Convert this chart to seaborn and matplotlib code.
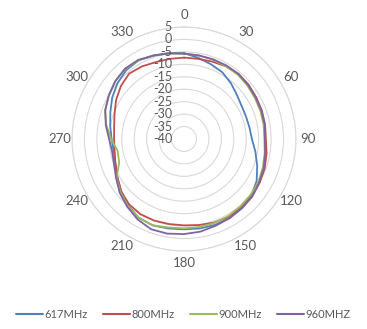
import numpy as np
import pandas as pd
import matplotlib
matplotlib.use("Agg")
import matplotlib.pyplot as plt
import seaborn as sns
from matplotlib.lines import Line2D

# ---- data (dB), angles every 10 degrees ----
angles_deg = list(range(0, 360, 10))
s617 = [-5.5, -6.9, -8.1, -9.1, -10.7, -12.3, -13.3, -13.5, -13.3, -12.7,
        -10.9, -8.7, -6.3, -4.7, -3.9, -3.3, -3.3, -3.5, -3.7, -3.5,
        -3.1, -3.5, -5.1, -7.1, -9.1, -10.7, -11.3, -10.9, -9.9, -8.5,
        -6.7, -5.1, -3.9, -3.5, -4.3, -4.9]
s800 = [-7.3, -7.3, -6.9, -6.3, -5.9, -6.1, -6.5, -6.7, -6.9, -7.1,
        -6.3, -5.5, -4.9, -4.3, -4.1, -3.9, -4.3, -4.9, -5.3, -5.3,
        -5.1, -5.1, -5.7, -7.1, -9.1, -10.7, -11.7, -11.9, -11.5, -10.3,
        -8.5, -6.9, -5.7, -6.3, -7.1, -7.3]
s900 = [-5.7, -5.9, -6.1, -6.3, -6.3, -6.7, -7.1, -7.3, -7.5, -7.7,
        -7.1, -6.3, -5.5, -5.1, -4.7, -4.3, -4.1, -4.1, -4.1, -3.9,
        -3.1, -3.5, -4.9, -6.7, -8.7, -12.3, -12.9, -10.7, -8.3, -6.3,
        -5.1, -3.9, -3.3, -3.5, -4.3, -5.1]
s960 = [-5.7, -5.9, -5.9, -5.9, -5.9, -6.3, -6.7, -6.9, -7.1, -7.5,
        -6.9, -5.9, -5.1, -4.1, -3.7, -3.3, -2.9, -2.2, -1.8, -1.4,
        -1.4, -2.7, -4.5, -6.3, -8.5, -10.1, -10.7, -9.9, -8.1, -6.3,
        -5.1, -3.9, -3.1, -3.3, -4.3, -5.1]
series_names = ["617MHz", "800MHz", "900MHz", "960MHZ"]
series_vals = [s617, s800, s900, s960]
colors = ["#4F81BD", "#C0504D", "#9BBB59", "#8064A2"]
angle_ticks = list(range(0, 360, 30))
radial_ticks = [5, 0, -5, -10, -15, -20, -25, -30, -35, -40]

rows = []
for name, vals in zip(series_names, series_vals):
    for a, v in zip(angles_deg + [360], vals + [vals[0]]):
        rows.append({"theta": np.deg2rad(a), "value": v, "series": name})
df = pd.DataFrame(rows)

sns.set_style("white")
plt.rcParams["font.family"] = ["Lato", "DejaVu Sans"]

fig = plt.figure(figsize=(3.67, 3.29), dpi=100)
ax = fig.add_axes([72 / 367, 78 / 329, 224 / 367, 224 / 329], projection="polar")
ax.set_theta_zero_location("N")
ax.set_theta_direction(-1)

sns.lineplot(data=df, x="theta", y="value", hue="series", palette=colors,
             hue_order=series_names, sort=False, estimator=None, ax=ax,
             linewidth=1.3, legend=False)

ax.set_ylim(-40, 5)
ax.set_yticks(radial_ticks[:-1])
ax.set_yticklabels([])
ax.yaxis.grid(True, color="#D9D9D9", linewidth=0.8)
ax.xaxis.grid(False)
ax.spines["polar"].set_color("#D9D9D9")
ax.spines["polar"].set_linewidth(0.8)
ax.set_xticks(np.deg2rad(angle_ticks))
ax.set_xticklabels([str(a) for a in angle_ticks], color="#595959", fontsize=9.5)
ax.tick_params(axis="x", pad=-2)
ax.set_xlabel("")
ax.set_ylabel("")

for v in radial_ticks:
    ax.annotate(str(v), xy=(0, v), xytext=(-12, 0), textcoords="offset pixels",
                ha="right", va="center", fontsize=9, color="#595959")

handles = [Line2D([], [], color=c, linewidth=1.5) for c in colors]
fig.legend(handles, series_names, loc="center", bbox_to_anchor=(0.5, 0.043),
           ncol=4, frameon=False, fontsize=8, handlelength=2.4,
           handletextpad=0.15, columnspacing=1.4, labelcolor="#595959")

fig.savefig("out.png", dpi=100)
